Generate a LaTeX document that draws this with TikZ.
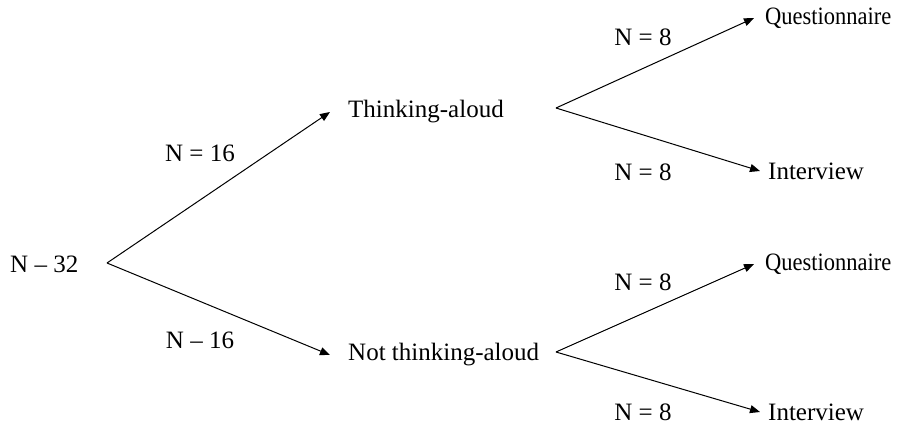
\documentclass[tikz,border=0pt]{standalone}
\usepackage{fontspec}
\setmainfont{Liberation Serif}
\newfontfamily\qfont[FakeStretch=0.9]{Liberation Serif}
\usetikzlibrary{arrows.meta}
\begin{document}
\begin{tikzpicture}[x=1pt,y=-1pt,
  lbl/.style={font=\fontsize{25}{28}\selectfont, inner sep=0pt, anchor=west},
  qlbl/.style={font=\qfont\fontsize{25}{28}\selectfont, inner sep=0pt, anchor=west},
  num/.style={font=\fontsize{25}{28}\selectfont, inner sep=0pt},
  conn/.style={line width=1pt, -{Triangle[length=10pt,width=8pt]}}]
\useasboundingbox (0,0) rectangle (910,425);
\node[lbl] (n32) at (10,264) {N -- 32};
\coordinate (root) at (107,263);
\node[lbl] (ta) at (348,112) {Thinking-aloud};
\node[lbl] (nta) at (348,355) {Not thinking-aloud};
\coordinate (b1) at (556,108);
\coordinate (b2) at (556,352);
\node[qlbl] (q1) at (765,18) {Questionnaire};
\node[lbl] (i1) at (768,171) {Interview};
\node[qlbl] (q2) at (765,264) {Questionnaire};
\node[lbl] (i2) at (768,412) {Interview};
\draw[conn] (root) -- ([xshift=-18pt]ta.west);
\draw[conn] (root) -- ([xshift=-18pt]nta.west);
\draw[conn] (b1) -- ([xshift=-11pt]q1.west);
\draw[conn] (b1) -- ([xshift=-8pt]i1.west);
\draw[conn] (b2) -- ([xshift=-11pt]q2.west);
\draw[conn] (b2) -- ([xshift=-8pt]i2.west);
\node[num] (l16a) at (200,153) {N = 16};
\node[num] (l16b) at (200,340) {N -- 16};
\node[num] (l8a) at (643,37) {N = 8};
\node[num] (l8b) at (643,172) {N = 8};
\node[num] (l8c) at (643,282) {N = 8};
\node[num] (l8d) at (643,412) {N = 8};
\end{tikzpicture}
\end{document}
